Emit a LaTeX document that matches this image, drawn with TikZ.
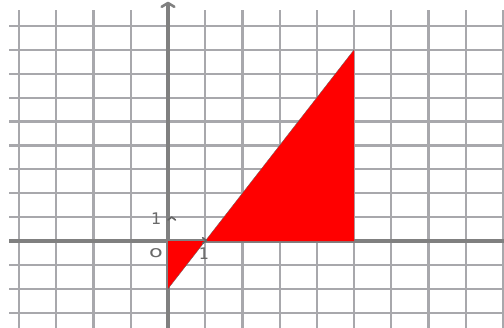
\documentclass[tikz,border=0pt]{standalone}
\usepackage{fontspec}
\setmainfont{DejaVu Sans}
\begin{document}
\begin{tikzpicture}[x=37.2pt,y=23.9pt,
  gridline/.style={draw={rgb,255:red,168;green,168;blue,172},line width=2.2pt},
  axisline/.style={draw={rgb,255:red,128;green,128;blue,128},line width=3.2pt},
  tickmark/.style={draw={rgb,255:red,100;green,100;blue,100},line width=1.6pt,line cap=round,line join=round},
  lbl/.style={text={rgb,255:red,105;green,105;blue,105},font=\fontsize{16pt}{16pt}\selectfont,inner sep=0pt}]
\useasboundingbox (-4.516,-3.598) rectangle (9.032,10.084);
% grid
\foreach \i in {-4,...,9} \draw[gridline] (\i,-3.7) -- (\i,9.665);
\foreach \j in {-3,...,9} \draw[gridline] (-4.27,\j) -- (9.1,\j);
% axes
\draw[axisline] (-4.27,0) -- (9.1,0);
\draw[axisline] (0,-3.7) -- (0,9.95);
\draw[axisline,line width=2.6pt,line join=round,line cap=round] (-0.17,9.8) -- (0,9.96) -- (0.17,9.8);
% red region
\fill[red] (0,0) -- (0,-2) -- (1,0) -- (5,8) -- (5,0) -- cycle;
\draw[black!60,line width=0.3pt] (0,-2) -- (5,8);
% ticks
\draw[tickmark] (0.0,0.88) -- (0.1,1.0) -- (0.2,0.88);
\draw[tickmark] (0.93,0.14) -- (1.03,0.02) -- (0.93,-0.1);
% labels
\node[lbl] (y1) at (-0.32,0.92) {1};
\node[lbl,xscale=1.4] (o) at (-0.32,-0.5) {o};
\node[lbl] (x1) at (0.97,-0.55) {1};
\end{tikzpicture}
\end{document}
